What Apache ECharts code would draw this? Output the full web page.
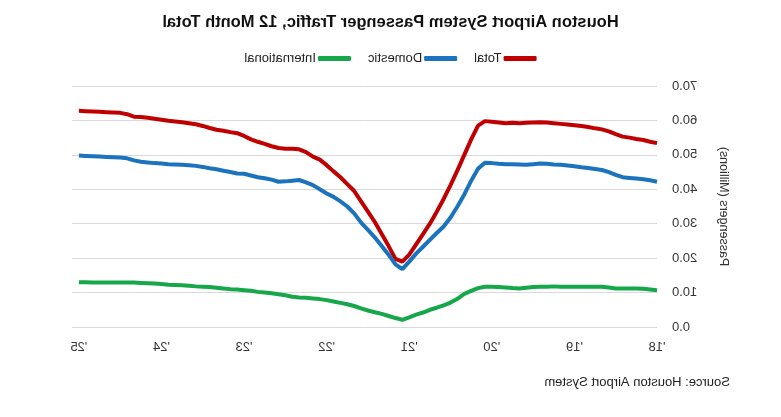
<!DOCTYPE html>
<html>
<head>
<meta charset="utf-8">
<script src="https://cdn.jsdelivr.net/npm/echarts@6/dist/echarts.min.js"></script>
<style>
  html, body { margin: 0; padding: 0; background: #fff; }
  #main { width: 781px; height: 417px; transform: scaleX(-1); }
</style>
</head>
<body>
<div id="main"></div>
<script>
// 12-month rolling totals, Jan 2018 .. Jan 2025 (millions)
var years = ['18', '19', '20', '21', '22', '23', '24', '25'];
var monthNames = ['Jan','Feb','Mar','Apr','May','Jun','Jul','Aug','Sep','Oct','Nov','Dec'];

var total = [
  53.4, 53.8, 54.3, 54.6, 55.0, 55.3, 56.0, 56.8, 57.4, 57.7, 58.1, 58.4,
  58.6, 58.8, 59.0, 59.2, 59.4, 59.5, 59.4, 59.3, 59.2, 59.3, 59.2, 59.4,
  59.6, 59.8, 58.5, 54.5, 50.0, 45.5, 41.2, 37.2, 33.5, 30.0, 27.0, 24.0,
  21.0, 19.0, 19.8, 23.5, 27.0, 30.5, 33.5, 36.5, 39.5, 41.5, 43.5, 45.2,
  47.0, 48.6, 49.5, 50.8, 51.6, 51.8, 51.8, 52.0, 52.5, 53.2, 53.8, 54.5,
  55.5, 56.3, 56.6, 57.0, 57.3, 57.8, 58.4, 58.9, 59.2, 59.5, 59.7, 59.9,
  60.2, 60.5, 60.8, 61.0, 61.1, 61.8, 62.2, 62.3, 62.4, 62.5, 62.6, 62.7,
  62.8
];
var domestic = [
  42.2, 42.6, 42.9, 43.1, 43.3, 43.5, 44.2, 45.0, 45.6, 45.9, 46.2, 46.4,
  46.7, 46.9, 47.1, 47.2, 47.4, 47.5, 47.3, 47.1, 47.2, 47.3, 47.3, 47.4,
  47.6, 47.7, 46.0, 42.5, 38.5, 35.0, 31.8, 29.2, 27.3, 25.3, 23.3, 21.3,
  19.0, 16.8, 18.2, 21.0, 23.5, 26.0, 28.2, 30.3, 33.0, 35.0, 36.5, 37.8,
  38.8, 40.0, 41.2, 42.0, 42.7, 42.5, 42.3, 42.2, 42.8, 43.2, 43.5, 44.0,
  44.5, 44.6, 45.0, 45.4, 45.8, 46.1, 46.5, 46.8, 47.0, 47.1, 47.2, 47.3,
  47.5, 47.6, 47.8, 48.0, 48.4, 49.0, 49.2, 49.3, 49.4, 49.5, 49.6, 49.7,
  49.8
];
var international = [
  10.7, 10.9, 11.1, 11.2, 11.2, 11.2, 11.2, 11.5, 11.7, 11.7, 11.7, 11.7,
  11.7, 11.7, 11.7, 11.8, 11.7, 11.7, 11.6, 11.4, 11.2, 11.3, 11.5, 11.6,
  11.7, 11.7, 11.3, 10.5, 9.6, 8.2, 7.1, 6.3, 5.6, 5.0, 4.2, 3.6,
  2.8, 2.1, 2.6, 3.2, 3.8, 4.3, 4.8, 5.4, 6.1, 6.6, 7.0, 7.4,
  7.8, 8.1, 8.3, 8.5, 8.6, 8.8, 9.2, 9.5, 9.8, 10.0, 10.2, 10.5,
  10.7, 10.9, 11.0, 11.2, 11.4, 11.6, 11.7, 11.8, 12.0, 12.1, 12.2, 12.3,
  12.5, 12.6, 12.7, 12.8, 12.9, 12.9, 12.9, 12.9, 12.9, 12.9, 12.9, 13.0,
  13.0
];

// monthly categories, one spare slot after the last point
var categories = [];
for (var y = 0; y < years.length; y++) {
  for (var m = 0; m < 12; m++) {
    categories.push(monthNames[m] + " '" + years[y]);
    if (y === years.length - 1 && m === 1) break;
  }
}

var red = '#c00000', blue = '#1b72bd', green = '#15a74a';
var font = 'Liberation Sans';

var myChart = echarts.init(document.getElementById('main'));
var option = {
  animation: false,
  title: {
    text: 'Houston Airport System Passenger Traffic, 12 Month Total',
    left: 'center',
    top: 9,
    textStyle: { fontFamily: font, fontSize: 16.5, fontWeight: 'bold', color: '#111' }
  },
  legend: {
    top: 47,
    left: 'center',
    itemGap: 17,
    itemWidth: 33,
    itemHeight: 5,
    icon: 'roundRect',
    textStyle: { fontFamily: font, fontSize: 13, color: '#222', padding: [0, 0, 0, -3] },
    data: ['Total', 'Domestic', 'International']
  },
  grid: { left: 124, right: 72, top: 86, bottom: 90 },
  xAxis: {
    type: 'category',
    boundaryGap: false,
    data: categories,
    axisLine: { show: false },
    axisTick: { show: false },
    axisLabel: {
      interval: function (i) { return i % 12 === 0; },
      formatter: function (v) { return v.slice(4); },
      margin: 14,
      fontFamily: font, fontSize: 13, color: '#333'
    },
    splitLine: { show: false }
  },
  yAxis: {
    type: 'value',
    min: 0, max: 70, interval: 10,
    name: 'Passengers (Millions)',
    nameLocation: 'middle',
    nameGap: 60,
    nameTextStyle: { fontFamily: font, fontSize: 12.5, color: '#333' },
    axisLabel: {
      formatter: function (v) { return v.toFixed(1); },
      margin: 15,
      fontFamily: font, fontSize: 13, color: '#333'
    },
    splitLine: { lineStyle: { color: '#d9d9d9', width: 1 } }
  },
  graphic: [{
    type: 'text',
    left: 51, top: 376,
    style: { text: 'Source: Houston Airport System', font: '13px "Liberation Sans"', fill: '#222' }
  }],
  series: [
    { name: 'Total', type: 'line', data: total, showSymbol: false, color: red,
      lineStyle: { width: 4, color: red } },
    { name: 'Domestic', type: 'line', data: domestic, showSymbol: false, color: blue,
      lineStyle: { width: 4, color: blue } },
    { name: 'International', type: 'line', data: international, showSymbol: false, color: green,
      lineStyle: { width: 4, color: green } }
  ]
};
myChart.setOption(option);
</script>
</body>
</html>
